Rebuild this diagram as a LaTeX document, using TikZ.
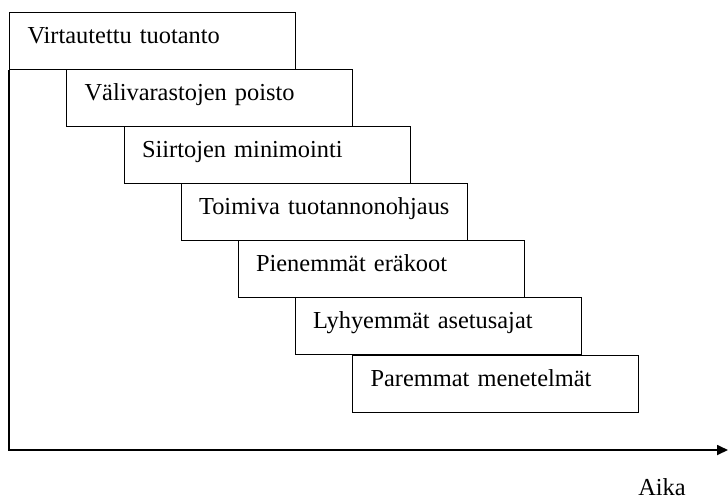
\documentclass[tikz,border=0pt]{standalone}
\usepackage{fontspec}
\setmainfont{Liberation Serif}
\usetikzlibrary{arrows.meta}
\tikzset{
  stepbox/.style={draw, line width=1.1pt, fill=white, anchor=north west,
    inner xsep=18pt, inner ysep=5pt, text width=250pt, align=left,
    text height=26pt, text depth=21pt,
    font=\fontsize{24.4pt}{28pt}\selectfont},
  axis/.style={line width=1.7pt},
  lbl/.style={font=\fontsize{24.4pt}{28pt}\selectfont, anchor=base, inner sep=0pt}
}
\begin{document}
\begin{tikzpicture}[x=1pt,y=-1pt]
\useasboundingbox (0,0) rectangle (728,499);
\node[stepbox] (b1) at (9,12) {\mbox{Virtautettu tuotanto}};
\node[stepbox] (b2) at (66,69) {\mbox{Välivarastojen poisto}};
\node[stepbox] (b3) at (123.5,126) {\mbox{Siirtojen minimointi}};
\node[stepbox] (b4) at (180.5,183) {\mbox{Toimiva tuotannonohjaus}};
\node[stepbox] (b5) at (237.5,240) {\mbox{Pienemmät eräkoot}};
\node[stepbox] (b6) at (294.5,297) {\mbox{Lyhyemmät asetusajat}};
\node[stepbox] (b7) at (352,355) {\mbox{Paremmat menetelmät}};
\coordinate (xend) at (728,450);
\draw[axis, -{Triangle[length=11pt,width=10pt]}] (b1.south west) |- (xend);
\node[lbl] (aika) at (662,495) {Aika};
\end{tikzpicture}
\end{document}
